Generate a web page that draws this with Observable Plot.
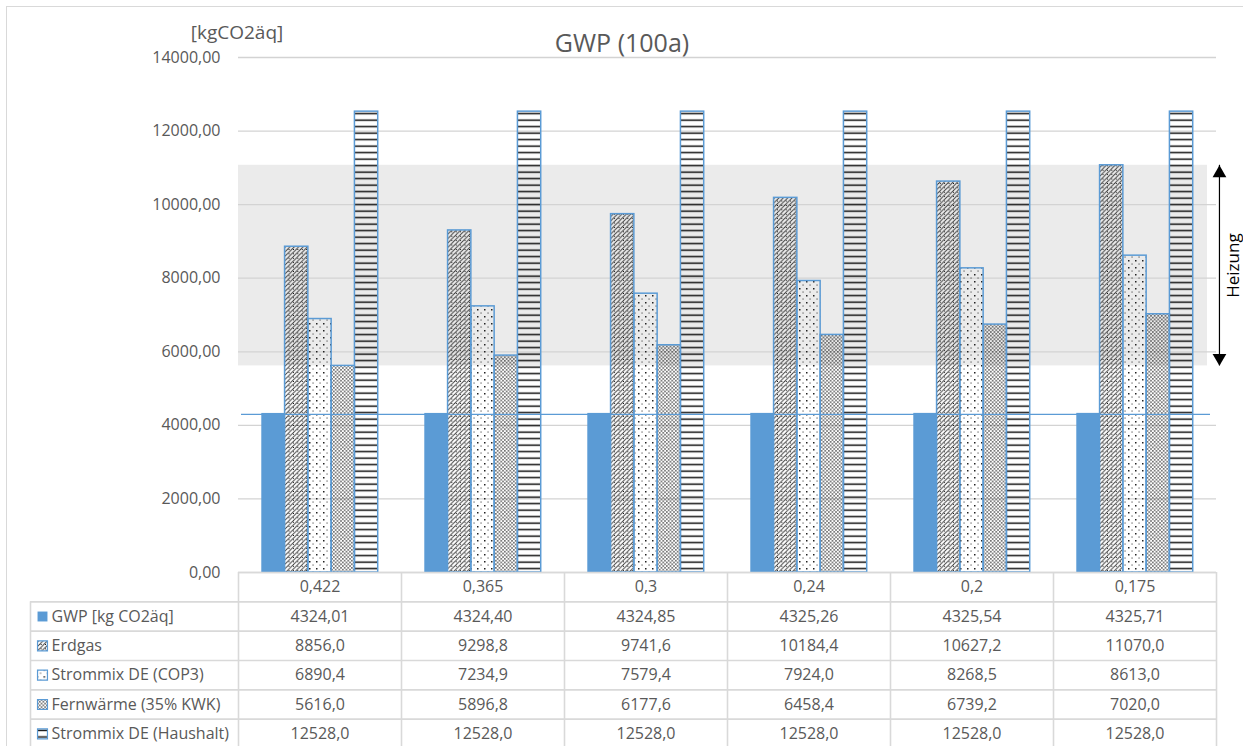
<!DOCTYPE html>
<html>
<head>
<meta charset="utf-8">
<script src="https://cdn.jsdelivr.net/npm/d3@7"></script>
<script src="https://cdn.jsdelivr.net/npm/@observablehq/plot@0.6"></script>
<style>
  body { margin: 0; background: #fff; }
  #wrap { position: relative; width: 1243px; height: 746px; overflow: hidden; font-family: "Open Sans", sans-serif; color: #595959; }
  #frame { position: absolute; left: 6px; top: 6px; width: 1300px; height: 800px; border: 1.5px solid #d9d9d9; box-sizing: border-box; }
  #chart { position: absolute; left: 0; top: 0; }
  #table { position: absolute; left: 0; top: 572px; }
  .lbl { position: absolute; white-space: nowrap; line-height: 1; }
  #title { left: 622px; top: 30px; transform: translateX(-50%); font-size: 25px; }
  #unit { left: 237px; top: 23px; transform: translateX(-50%); font-size: 19px; }
</style>
</head>
<body>
<div id="wrap">
  <div id="frame"></div>
  <svg width="0" height="0" style="position:absolute">
    <defs>
      <pattern id="pErdgas" patternUnits="userSpaceOnUse" width="4.4" height="4.4">
        <path d="M-1.1,1.1 l2.2,-2.2 M0,4.4 l4.4,-4.4 M3.3,5.5 l2.2,-2.2" stroke="#333" stroke-width="0.9"/>
        <rect x="2.6" y="2.6" width="0.9" height="0.9" fill="#000"/>
      </pattern>
      <pattern id="pCop3" patternUnits="userSpaceOnUse" width="7" height="7">
        <rect x="1" y="1" width="1.5" height="1.5" fill="#222"/>
        <rect x="4.5" y="4.5" width="1.1" height="1.1" fill="#444"/>
      </pattern>
      <pattern id="pFern" patternUnits="userSpaceOnUse" width="3.6" height="3.6">
        <rect x="0.2" y="0.2" width="1.3" height="1.3" fill="#111"/>
        <rect x="2" y="2" width="1.3" height="1.3" fill="#111"/>
      </pattern>
      <pattern id="pHaus" patternUnits="userSpaceOnUse" width="6" height="6.5">
        <rect x="0" y="2.4" width="6" height="1.5" fill="#111"/>
      </pattern>
    </defs>
  </svg>
  <div id="chart"></div>
  <div id="table"></div>
  <div id="title" class="lbl">GWP (100a)</div>
  <div id="unit" class="lbl">[kgCO2äq]</div>
</div>
<script>
// ---- data ----
const groups = ["0,422", "0,365", "0,3", "0,24", "0,2", "0,175"];
const series = ["GWP [kg CO2äq]", "Erdgas", "Strommix DE (COP3)", "Fernwärme (35% KWK)", "Strommix DE (Haushalt)"];
const gwp = [4324.01, 4324.40, 4324.85, 4325.26, 4325.54, 4325.71];
const erdgas = [8856.0, 9298.8, 9741.6, 10184.4, 10627.2, 11070.0];
const strommixCOP3 = [6890.4, 7234.9, 7579.4, 7924.0, 8268.5, 8613.0];
const fernwaerme = [5616.0, 5896.8, 6177.6, 6458.4, 6739.2, 7020.0];
const strommixHaushalt = [12528.0, 12528.0, 12528.0, 12528.0, 12528.0, 12528.0];
const yTicks = [0, 2000, 4000, 6000, 8000, 10000, 12000, 14000];
const decimals = [2, 1, 1, 1, 1];

// ---- derived ----
const seriesValues = [gwp, erdgas, strommixCOP3, fernwaerme, strommixHaushalt];
const fills = ["#5b9bd5", "url(#pErdgas)", "url(#pCop3)", "url(#pFern)", "url(#pHaus)"];
const fmt = (v, d) => v.toFixed(d).replace(".", ",");
const slotKeys = groups.flatMap(g => [g + "|a", ...series.map(s => g + "|" + s), g + "|b"]);
const bars = series.flatMap((s, k) => groups.map((g, i) => ({key: g + "|" + s, k, value: seriesValues[k][i]})));
const heiz = {lo: d3.min(fernwaerme), hi: d3.max(erdgas)};
const lastPad = groups[groups.length - 1] + "|b";

const chart = Plot.plot({
  width: 1243,
  height: 592,
  marginLeft: 238,
  marginRight: 27,
  marginTop: 57,
  marginBottom: 20,
  style: {fontFamily: "Open Sans, sans-serif", fontSize: "16px", color: "#595959", background: "transparent"},
  x: {domain: slotKeys, padding: 0, round: false, axis: null},
  y: {domain: [0, 14000]},
  marks: [
    Plot.rect([heiz], {y1: "lo", y2: "hi", insetRight: 9, fill: "#ebebeb"}),
    Plot.gridY({ticks: yTicks, stroke: "#d3d3d3", strokeOpacity: 1, strokeWidth: 1.3}),
    Plot.axisY({ticks: yTicks, tickSize: 0, tickPadding: 18, tickFormat: d => fmt(d, 2), label: null, fontSize: 16}),
    ...series.map((s, k) => Plot.barY(bars.filter(d => d.k === k), {
      x: "key", y: "value", fill: fills[k],
      stroke: k === 0 ? "none" : "#5b9bd5", strokeWidth: 1.5
    })),
    Plot.ruleY([d3.mean(gwp)], {stroke: "#5b9bd5", strokeWidth: 1.3, insetLeft: 3, insetRight: 6, dy: 1}),
    Plot.ruleX([heiz], {x: () => lastPad, y1: "lo", y2: "hi", dx: 14.6, stroke: "#000", strokeWidth: 1.2}),
    Plot.dot([heiz], {x: () => lastPad, y: "hi", symbol: "triangle", r: 5.1, fill: "#000", stroke: "none", dx: 14.6, dy: 8}),
    Plot.dot([heiz], {x: () => lastPad, y: "lo", symbol: "triangle", rotate: 180, r: 5.1, fill: "#000", stroke: "none", dx: 14.6, dy: -8}),
    Plot.text([heiz], {x: () => lastPad, y: d => (d.lo + d.hi) / 2, text: () => "Heizung", rotate: -90, dx: 29, fill: "#000", fontSize: 17})
  ]
});
document.getElementById("chart").appendChild(chart);

// ---- data table ----
const cells = series.flatMap((s, k) => groups.map((g, i) => ({col: i, row: k + 1, text: fmt(seriesValues[k][i], decimals[k])})));
const headCells = groups.map((g, i) => ({col: i, row: 0, text: g}));
const rowHeads = series.map((s, k) => ({row: k + 1, text: s, k}));

const table = Plot.plot({
  width: 1243,
  height: 176,
  marginLeft: 238,
  marginRight: 27,
  marginTop: 0,
  marginBottom: 0,
  style: {fontFamily: "Open Sans, sans-serif", fontSize: "16px", color: "#595959", background: "transparent", overflow: "visible"},
  x: {domain: [0, groups.length], axis: null},
  y: {domain: [0, series.length + 1], reverse: true, axis: null},
  marks: [
    Plot.ruleY([0], {stroke: "#d9d9d9", strokeWidth: 1.6}),
    Plot.ruleY(d3.range(1, series.length + 2), {stroke: "#d9d9d9", strokeWidth: 1.6, insetLeft: -208}),
    Plot.ruleX(d3.range(0, groups.length + 1), {y1: 0, y2: series.length + 1, stroke: "#d9d9d9", strokeWidth: 1.6}),
    Plot.ruleX([0], {y1: 1, y2: series.length + 1, dx: -208, stroke: "#d9d9d9", strokeWidth: 1.6}),
    Plot.text(headCells.concat(cells), {x: d => d.col + 0.5, y: d => d.row + 0.5, text: "text", fill: "#595959", fontSize: 16}),
    ...rowHeads.map(r => Plot.dot([r], {x: () => 0, y: d => d.row + 0.5, dx: -196, symbol: "square", r: 5.6,
      fill: fills[r.k], stroke: r.k === 0 ? "none" : "#5b9bd5", strokeWidth: 1.2})),
    Plot.text(rowHeads, {x: () => 0, y: d => d.row + 0.5, dx: -187, text: "text", textAnchor: "start", fill: "#595959", fontSize: 16})
  ]
});
document.getElementById("table").appendChild(table);
</script>
</body>
</html>
